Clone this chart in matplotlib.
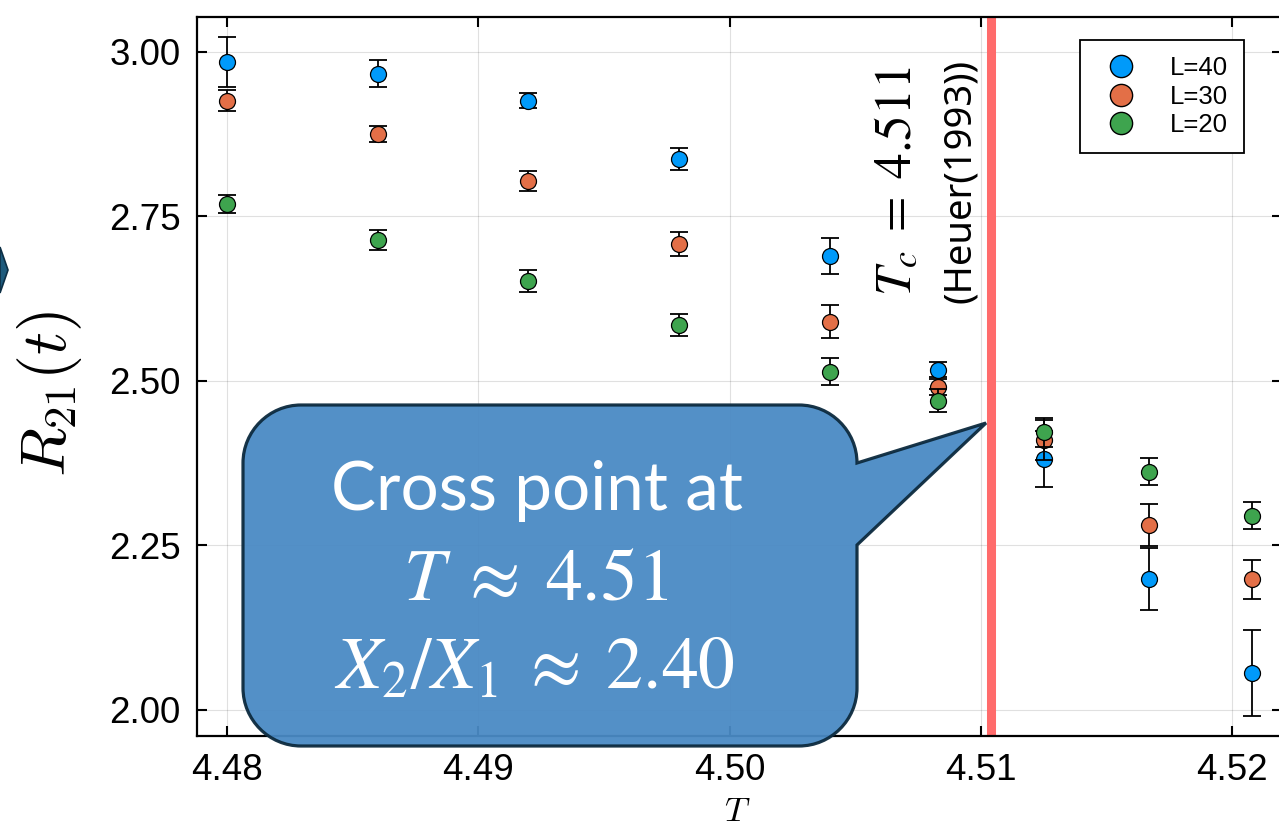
import numpy as np
import matplotlib
matplotlib.use("Agg")
import matplotlib.pyplot as plt
from matplotlib.path import Path
from matplotlib.patches import PathPatch, Polygon
from matplotlib.lines import Line2D
import matplotlib.transforms as mtransforms

# temperatures of the runs
T = [4.480, 4.486, 4.492, 4.498, 4.504, 4.5083, 4.5125, 4.5167, 4.5208]

# R21 ratio and its error for each lattice size
r40 = [2.985, 2.967, 2.926, 2.837, 2.690, 2.517, 2.381, 2.199, 2.056]
e40 = [0.038, 0.020, 0.012, 0.017, 0.027, 0.012, 0.042, 0.047, 0.065]
r30 = [2.926, 2.875, 2.804, 2.708, 2.590, 2.491, 2.410, 2.281, 2.198]
e30 = [0.016, 0.012, 0.015, 0.018, 0.025, 0.012, 0.030, 0.032, 0.030]
r20 = [2.769, 2.714, 2.652, 2.585, 2.514, 2.470, 2.422, 2.362, 2.295]
e20 = [0.014, 0.015, 0.017, 0.017, 0.020, 0.018, 0.022, 0.020, 0.020]

labels = ["L=40", "L=30", "L=20"]
colors = ["#009AFA", "#E36F47", "#3EA44E"]
Tc_line = 4.5104

xticks = [4.48, 4.49, 4.50, 4.51, 4.52]
yticks = [2.00, 2.25, 2.50, 2.75, 3.00]

W, H = 1279, 826
fig = plt.figure(figsize=(W / 100, H / 100), dpi=100)
ax = fig.add_axes([197 / W, 90 / H, 1085 / W, 719 / H])

# pixel coordinates measured from the top-left corner of the figure
pix = mtransforms.Affine2D().scale(1 / W, -1 / H).translate(0, 1) + fig.transFigure

handles = []
for ys, es, c, lab in zip([r40, r30, r20], [e40, e30, e20], colors, labels):
    ax.errorbar(T, ys, yerr=es, fmt="none", ecolor="black", elinewidth=1.3,
                capsize=6.5, capthick=1.3, zorder=3)
    ax.plot(T, ys, ls="none", marker="o", ms=11.5, mfc=c, mec="black",
            mew=0.9, zorder=3)
    handles.append(Line2D([], [], ls="none", marker="o", ms=16, mfc=c,
                          mec="black", mew=1.0, label=lab))

ax.axvline(Tc_line, ymin=0.004, ymax=0.997, color="#FF6B6B", lw=6.5, zorder=2)

ax.set_xlim(4.478806, 4.52199)
ax.set_ylim(1.960, 3.053)
ax.set_xticks(xticks)
ax.set_xticklabels([f"{v:.2f}" for v in xticks])
ax.set_yticks(yticks)
ax.set_yticklabels([f"{v:.2f}" for v in yticks])
ax.grid(True, color="black", alpha=0.12, lw=0.8)
ax.set_axisbelow(True)
ax.tick_params(direction="in", length=7, width=1.5, top=True, right=True,
               labelsize=26.5, pad=12)
for lab in ax.get_xticklabels() + ax.get_yticklabels():
    lab.set_family("Liberation Sans")
for sp in ax.spines.values():
    sp.set_linewidth(1.6)

ax.set_xlabel("$T$", fontsize=25, math_fontfamily="cm")
ax.set_ylabel("$R_{21}(t)$", fontsize=46, math_fontfamily="cm")
ax.xaxis.set_label_coords(0.4977, -0.08)
ax.yaxis.set_label_coords(-0.104, 0.475)

leg = ax.legend(handles=handles, loc="upper right",
                bbox_to_anchor=(1047 / 1085, 1 - 23 / 719),
                prop={"family": "Liberation Sans", "size": 18.5},
                frameon=True, fancybox=False, edgecolor="black",
                framealpha=1, handlelength=2.0, handletextpad=0.9,
                labelspacing=0.18, borderpad=0.62, borderaxespad=0)
leg.get_frame().set_linewidth(1.3)

# Tc annotation beside the red line
fig.text(897, 181, r"$T_c\;=\;4.511$", transform=pix, rotation=90,
         ha="center", va="center", fontsize=37, math_fontfamily="stix")
fig.text(960, 181, "(Heuer(1993))", transform=pix, rotation=90,
         ha="center", va="center", fontsize=27.5, family="Noto Sans")

# speech bubble pointing at the crossing
L, R, Tp, B, r = 243, 857, 405, 746, 58
k = 0.45
tip = (986, 423)
verts = [
    (L + r, Tp), (R - r, Tp),
    (R - r * k, Tp), (R, Tp + r * k), (R, Tp + r),
    tip, (R, 545),
    (R, B - r),
    (R, B - r * k), (R - r * k, B), (R - r, B),
    (L + r, B),
    (L + r * k, B), (L, B - r * k), (L, B - r),
    (L, Tp + r),
    (L, Tp + r * k), (L + r * k, Tp), (L + r, Tp),
    (L + r, Tp),
]
codes = [Path.MOVETO, Path.LINETO,
         Path.CURVE4, Path.CURVE4, Path.CURVE4,
         Path.LINETO, Path.LINETO,
         Path.LINETO,
         Path.CURVE4, Path.CURVE4, Path.CURVE4,
         Path.LINETO,
         Path.CURVE4, Path.CURVE4, Path.CURVE4,
         Path.LINETO,
         Path.CURVE4, Path.CURVE4, Path.CURVE4,
         Path.CLOSEPOLY]
bubble = PathPatch(Path(verts, codes), transform=pix, facecolor="#4A8AC4",
                   edgecolor="#0C2A3E", lw=2.3, alpha=0.95, zorder=5)
fig.add_artist(bubble)

fig.text(537, 510, "Cross point at", transform=pix, ha="center",
         va="baseline", color="white", fontsize=48.5, family="Lato", zorder=6)
fig.text(536, 600, r"$T\;\approx\;4.51$", transform=pix, ha="center",
         va="baseline", color="white", fontsize=53, math_fontfamily="stix",
         zorder=6)
fig.text(534, 688, r"$X_2/X_1\;\approx\;2.40$", transform=pix, ha="center",
         va="baseline", color="white", fontsize=53, math_fontfamily="stix",
         zorder=6)

# edge of the slide arrow on the left
chev = Polygon([(0, 247), (8, 270), (0, 293)], closed=True, transform=pix,
               facecolor="#1D5A7C", edgecolor="#0D2F45", lw=1.2, zorder=5)
fig.add_artist(chev)

fig.savefig("out.png", dpi=100)
